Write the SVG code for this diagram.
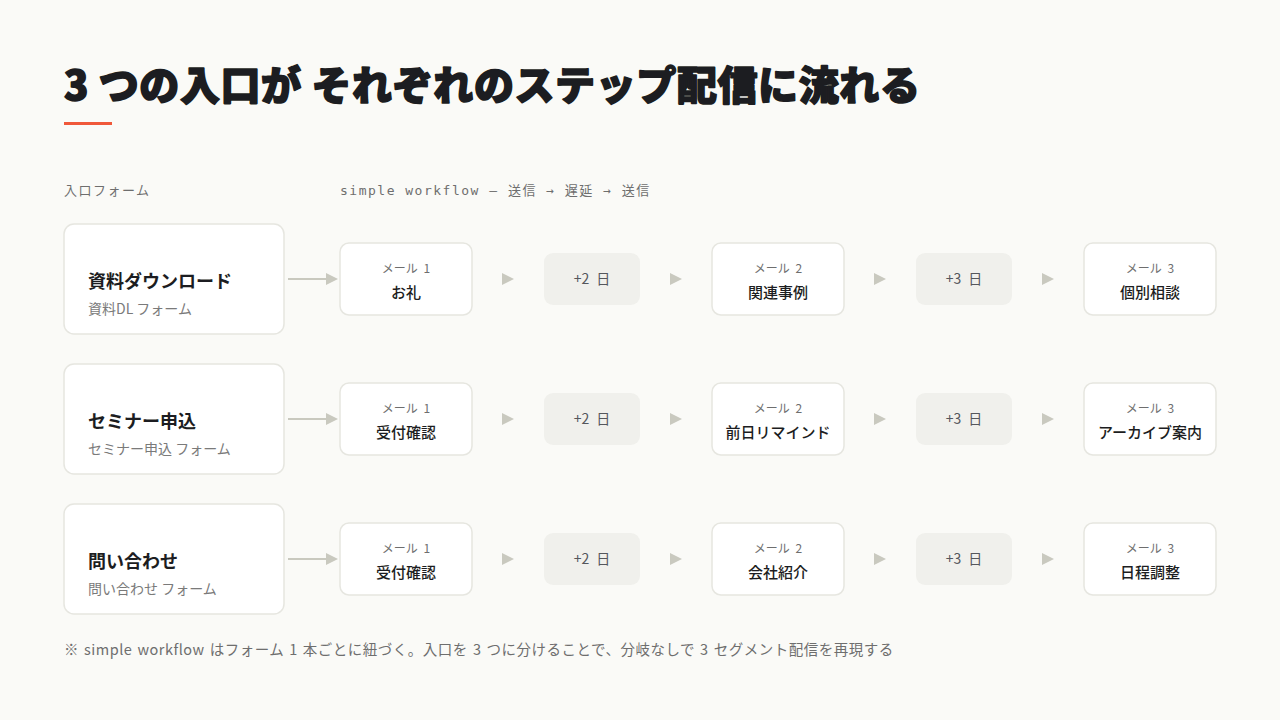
<svg xmlns="http://www.w3.org/2000/svg" width="1280" height="720" viewBox="0 0 1280 720">
<style>
.cj{font-family:"Noto Sans CJK JP","Noto Sans",sans-serif}
.title{font-size:40px;font-weight:900;fill:#1c1d21;stroke:#1c1d21;stroke-width:1.6;stroke-linejoin:round;letter-spacing:0.6px}
.cap{font-size:13px;fill:#6e6e6e;letter-spacing:1.5px}
.mono{font-family:"DejaVu Sans Mono","Noto Sans CJK JP",monospace;font-size:13px;fill:#6e6e6e;letter-spacing:1.5px}
.entry rect{fill:#fff;stroke:#e6e6e0;stroke-width:1.5}
.et{font-size:18px;font-weight:700;fill:#1c1d21}
.es{font-size:14px;fill:#7a7a7a}
.mail rect{fill:#fff;stroke:#e6e6e0;stroke-width:1.5}
.ml{font-size:12px;fill:#6e6e6e;word-spacing:3px}
.mt{font-size:15px;font-weight:500;fill:#1c1d21}
.delay rect{fill:#f0f0ec}
.dt{font-size:14px;fill:#55575c;word-spacing:4px}
.tri{fill:#c9c9bf}
.foot{font-size:14.5px;fill:#6e6e6e;letter-spacing:0.5px;word-spacing:1.3px}
</style>
<defs>
<marker id="ah" viewBox="0 0 12 12" refX="0" refY="6" markerWidth="12" markerHeight="12" markerUnits="userSpaceOnUse" orient="auto"><path d="M0,0 L12,6 L0,12 Z" fill="#c9c9bf"/></marker>
<path id="t" d="M0,-6 L12,0 L0,6 Z"/>
</defs>
<rect width="1280" height="720" fill="#fafaf7"/>
<text class="cj title" x="64" y="100">3 つの入口が それぞれのステップ配信に流れる</text>
<rect x="64" y="122" width="48" height="3" fill="#f0583a"/>
<text class="cj cap" x="64" y="195">入口フォーム</text>
<text class="mono" x="340" y="195">simple workflow — 送信 → 遅延 → 送信</text>

<g id="connectors" stroke="#c9c9bf" stroke-width="2">
<line x1="288" y1="279" x2="326" y2="279" marker-end="url(#ah)"/>
<line x1="288" y1="419" x2="326" y2="419" marker-end="url(#ah)"/>
<line x1="288" y1="559" x2="326" y2="559" marker-end="url(#ah)"/>
<g class="tri" stroke="none">
<use href="#t" x="502" y="279"/><use href="#t" x="670" y="279"/><use href="#t" x="874" y="279"/><use href="#t" x="1042" y="279"/>
<use href="#t" x="502" y="419"/><use href="#t" x="670" y="419"/><use href="#t" x="874" y="419"/><use href="#t" x="1042" y="419"/>
<use href="#t" x="502" y="559"/><use href="#t" x="670" y="559"/><use href="#t" x="874" y="559"/><use href="#t" x="1042" y="559"/>
</g>
</g>

<!-- Row 1 -->
<g id="entry1" class="entry cj"><rect x="64" y="224" width="220" height="110" rx="10"/><text class="et" x="88" y="288">資料ダウンロード</text><text class="es" x="88" y="314">資料DL フォーム</text></g>
<g id="r1m1" class="mail cj"><rect x="340" y="243" width="132" height="72" rx="9"/><text class="ml" x="406" y="273" text-anchor="middle">メール 1</text><text class="mt" x="406" y="298" text-anchor="middle">お礼</text></g>
<g id="r1d1" class="delay cj"><rect x="544" y="253" width="96" height="52" rx="9"/><text class="dt" x="592" y="284" text-anchor="middle">+2 日</text></g>
<g id="r1m2" class="mail cj"><rect x="712" y="243" width="132" height="72" rx="9"/><text class="ml" x="778" y="273" text-anchor="middle">メール 2</text><text class="mt" x="778" y="298" text-anchor="middle">関連事例</text></g>
<g id="r1d2" class="delay cj"><rect x="916" y="253" width="96" height="52" rx="9"/><text class="dt" x="964" y="284" text-anchor="middle">+3 日</text></g>
<g id="r1m3" class="mail cj"><rect x="1084" y="243" width="132" height="72" rx="9"/><text class="ml" x="1150" y="273" text-anchor="middle">メール 3</text><text class="mt" x="1150" y="298" text-anchor="middle">個別相談</text></g>

<!-- Row 2 -->
<g id="entry2" class="entry cj"><rect x="64" y="364" width="220" height="110" rx="10"/><text class="et" x="88" y="428">セミナー申込</text><text class="es" x="88" y="454">セミナー申込 フォーム</text></g>
<g id="r2m1" class="mail cj"><rect x="340" y="383" width="132" height="72" rx="9"/><text class="ml" x="406" y="413" text-anchor="middle">メール 1</text><text class="mt" x="406" y="438" text-anchor="middle">受付確認</text></g>
<g id="r2d1" class="delay cj"><rect x="544" y="393" width="96" height="52" rx="9"/><text class="dt" x="592" y="424" text-anchor="middle">+2 日</text></g>
<g id="r2m2" class="mail cj"><rect x="712" y="383" width="132" height="72" rx="9"/><text class="ml" x="778" y="413" text-anchor="middle">メール 2</text><text class="mt" x="778" y="438" text-anchor="middle">前日リマインド</text></g>
<g id="r2d2" class="delay cj"><rect x="916" y="393" width="96" height="52" rx="9"/><text class="dt" x="964" y="424" text-anchor="middle">+3 日</text></g>
<g id="r2m3" class="mail cj"><rect x="1084" y="383" width="132" height="72" rx="9"/><text class="ml" x="1150" y="413" text-anchor="middle">メール 3</text><text class="mt" x="1150" y="438" text-anchor="middle">アーカイブ案内</text></g>

<!-- Row 3 -->
<g id="entry3" class="entry cj"><rect x="64" y="504" width="220" height="110" rx="10"/><text class="et" x="88" y="568">問い合わせ</text><text class="es" x="88" y="594">問い合わせ フォーム</text></g>
<g id="r3m1" class="mail cj"><rect x="340" y="523" width="132" height="72" rx="9"/><text class="ml" x="406" y="553" text-anchor="middle">メール 1</text><text class="mt" x="406" y="578" text-anchor="middle">受付確認</text></g>
<g id="r3d1" class="delay cj"><rect x="544" y="533" width="96" height="52" rx="9"/><text class="dt" x="592" y="564" text-anchor="middle">+2 日</text></g>
<g id="r3m2" class="mail cj"><rect x="712" y="523" width="132" height="72" rx="9"/><text class="ml" x="778" y="553" text-anchor="middle">メール 2</text><text class="mt" x="778" y="578" text-anchor="middle">会社紹介</text></g>
<g id="r3d2" class="delay cj"><rect x="916" y="533" width="96" height="52" rx="9"/><text class="dt" x="964" y="564" text-anchor="middle">+3 日</text></g>
<g id="r3m3" class="mail cj"><rect x="1084" y="523" width="132" height="72" rx="9"/><text class="ml" x="1150" y="553" text-anchor="middle">メール 3</text><text class="mt" x="1150" y="578" text-anchor="middle">日程調整</text></g>

<text class="cj foot" x="64" y="655">※ simple workflow はフォーム 1 本ごとに紐づく。入口を 3 つに分けることで、分岐なしで 3 セグメント配信を再現する</text>
</svg>
